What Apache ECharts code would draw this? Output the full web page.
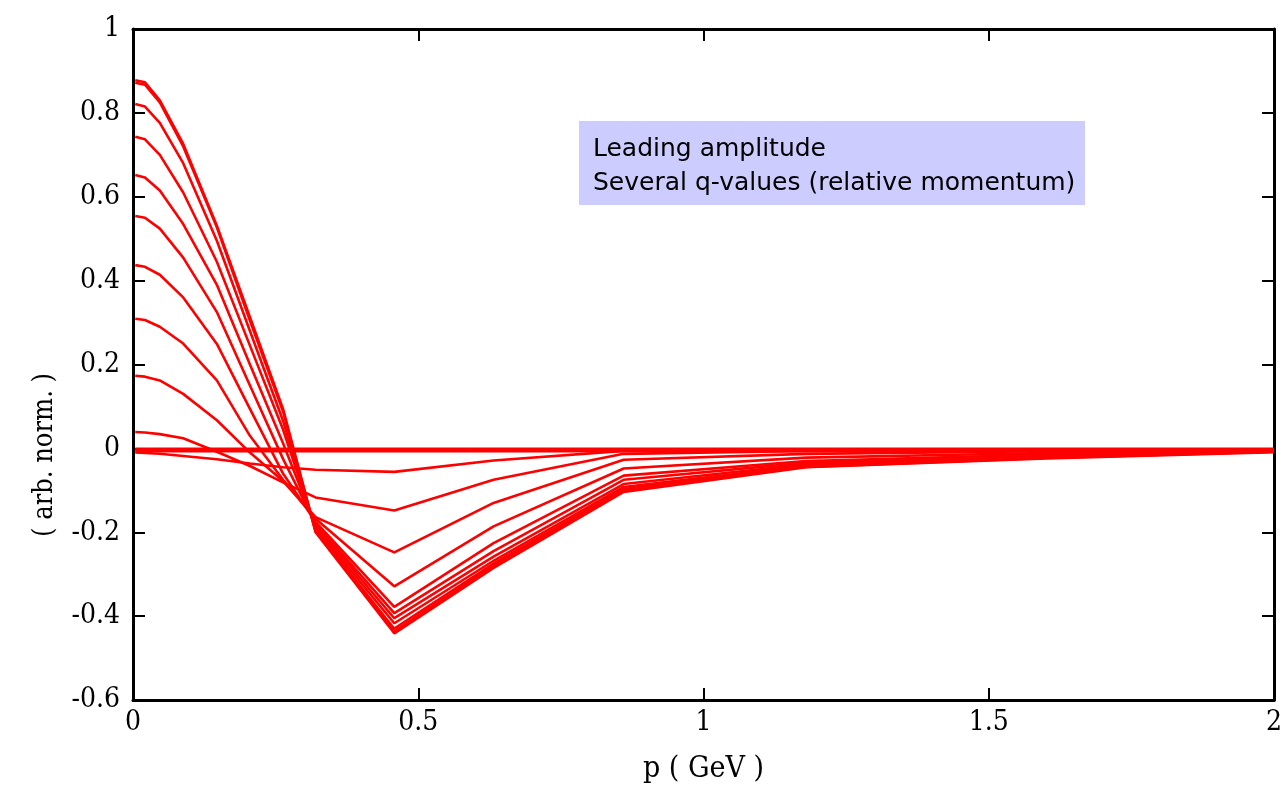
<!DOCTYPE html>
<html>
<head>
<meta charset="utf-8">
<script src="https://cdn.jsdelivr.net/npm/echarts@6/dist/echarts.min.js"></script>
<style>
html,body{margin:0;padding:0;background:#fff;}
#chart{width:1281px;height:786px;}
</style>
</head>
<body>
<div id="chart"></div>
<script>
// momentum grid p (GeV)
const p = [0.004, 0.021, 0.047, 0.088, 0.147, 0.205, 0.263, 0.32, 0.458, 0.632, 0.86, 1.18, 1.6, 2.0];

// leading amplitude for several q-values
const qA = [0.878, 0.873, 0.830, 0.726, 0.531, 0.313, 0.094, -0.200, -0.441, -0.285, -0.104, -0.045, -0.024, -0.009];
const qB = [0.872, 0.867, 0.825, 0.720, 0.527, 0.305, 0.088, -0.198, -0.437, -0.280, -0.100, -0.044, -0.023, -0.008];
const qC = [0.821, 0.815, 0.776, 0.680, 0.495, 0.280, 0.066, -0.195, -0.430, -0.275, -0.097, -0.043, -0.022, -0.008];
const qD = [0.743, 0.737, 0.700, 0.610, 0.445, 0.245, 0.045, -0.190, -0.417, -0.268, -0.092, -0.041, -0.021, -0.007];
const qE = [0.652, 0.646, 0.615, 0.535, 0.390, 0.200, 0.012, -0.185, -0.405, -0.258, -0.085, -0.038, -0.019, -0.007];
const qF = [0.554, 0.550, 0.524, 0.455, 0.325, 0.150, -0.025, -0.180, -0.393, -0.245, -0.075, -0.034, -0.017, -0.006];
const qG = [0.437, 0.433, 0.414, 0.360, 0.249, 0.094, -0.060, -0.175, -0.378, -0.226, -0.065, -0.030, -0.015, -0.005];
const qH = [0.309, 0.306, 0.290, 0.250, 0.162, 0.030, -0.075, -0.168, -0.329, -0.186, -0.048, -0.022, -0.011, -0.004];
const qI = [0.173, 0.171, 0.162, 0.130, 0.067, -0.010, -0.078, -0.164, -0.248, -0.130, -0.027, -0.013, -0.007, -0.003];
const qJ = [0.039, 0.038, 0.034, 0.024, -0.008, -0.042, -0.081, -0.117, -0.148, -0.075, -0.013, -0.006, -0.004, -0.002];
const qK = [-0.010, -0.011, -0.013, -0.018, -0.026, -0.036, -0.045, -0.051, -0.056, -0.029, -0.006, -0.004, -0.003, -0.002];
const qL = [-0.001, -0.001, -0.001, -0.001, -0.001, -0.001, -0.001, -0.001, -0.001, -0.001, -0.001, -0.001, -0.001, -0.001];
const qM = [-0.004, -0.004, -0.004, -0.004, -0.004, -0.004, -0.004, -0.004, -0.004, -0.004, -0.004, -0.004, -0.004, -0.004];
const qN = [-0.007, -0.007, -0.007, -0.007, -0.007, -0.007, -0.007, -0.007, -0.007, -0.007, -0.007, -0.007, -0.006, -0.006];

const allSeries = [qA, qB, qC, qD, qE, qF, qG, qH, qI, qJ, qK, qL, qM, qN];

const xTicks = { min: 0, max: 2, interval: 0.5 };
const yTicks = { min: -0.6, max: 1, interval: 0.2 };

const xTitle = 'p ( GeV )';
const yTitle = '( arb. norm. )';
const annotationLines = ['Leading amplitude', 'Several q-values (relative momentum)'];

const chart = echarts.init(document.getElementById('chart'), null, { renderer: 'canvas' });

const serif = '"DejaVu Serif Condensed", "DejaVu Serif", serif';
const axisLineStyle = { color: '#000', width: 3 };
const tickStyle = { show: true, inside: true, length: 12, lineStyle: { color: '#000', width: 2 } };

const option = {
  animation: false,
  backgroundColor: '#fff',
  grid: { left: 133, right: 7, top: 29, bottom: 86, containLabel: false, outerBoundsMode: 'none' },
  xAxis: [
    {
      type: 'value', min: xTicks.min, max: xTicks.max, interval: xTicks.interval,
      position: 'bottom',
      name: xTitle, nameLocation: 'middle', nameGap: 54,
      nameTextStyle: { fontFamily: serif, fontSize: 30, color: '#000' },
      axisLine: { show: true, onZero: false, lineStyle: axisLineStyle },
      axisTick: tickStyle,
      axisLabel: { fontFamily: serif, fontSize: 28, color: '#000', margin: 9,
        formatter: v => String(+v.toFixed(2)) },
      splitLine: { show: false }
    },
    {
      type: 'value', min: xTicks.min, max: xTicks.max, interval: xTicks.interval,
      position: 'top',
      axisLine: { show: true, onZero: false, lineStyle: axisLineStyle },
      axisTick: tickStyle,
      axisLabel: { show: false },
      splitLine: { show: false }
    }
  ],
  yAxis: [
    {
      type: 'value', min: yTicks.min, max: yTicks.max, interval: yTicks.interval,
      position: 'left',
      axisLine: { show: true, onZero: false, lineStyle: axisLineStyle },
      axisTick: tickStyle,
      axisLabel: { fontFamily: serif, fontSize: 28, color: '#000', margin: 13,
        formatter: v => String(+v.toFixed(2)) },
      splitLine: { show: false }
    },
    {
      type: 'value', min: yTicks.min, max: yTicks.max, interval: yTicks.interval,
      position: 'right',
      axisLine: { show: true, onZero: false, lineStyle: axisLineStyle },
      axisTick: tickStyle,
      axisLabel: { show: false },
      splitLine: { show: false }
    }
  ],
  graphic: [
    {
      type: 'text', x: 45, y: 455, rotation: Math.PI / 2, silent: true,
      style: { text: yTitle, font: '27px "DejaVu Serif Condensed", "DejaVu Serif", serif', fill: '#000',
        textAlign: 'center', textVerticalAlign: 'middle' }
    },
    {
      type: 'group', left: 579, top: 121, silent: true,
      children: [
        { type: 'rect', shape: { x: 0, y: 0, width: 506, height: 84 }, style: { fill: '#ccccff' } },
        { type: 'text', x: 14, y: 11,
          style: { text: annotationLines.join('\n'), font: '25px "DejaVu Sans"', fill: '#000', lineHeight: 34 } }
      ]
    }
  ],
  series: allSeries.map(vals => ({
    type: 'line',
    xAxisIndex: 0, yAxisIndex: 0,
    data: p.map((x, i) => [x, vals[i]]),
    showSymbol: false,
    symbol: 'none',
    lineStyle: { color: '#ff0000', width: 2.6 },
    itemStyle: { color: '#ff0000' },
    silent: true,
    z: 1
  }))
};

chart.setOption(option);
</script>
</body>
</html>
